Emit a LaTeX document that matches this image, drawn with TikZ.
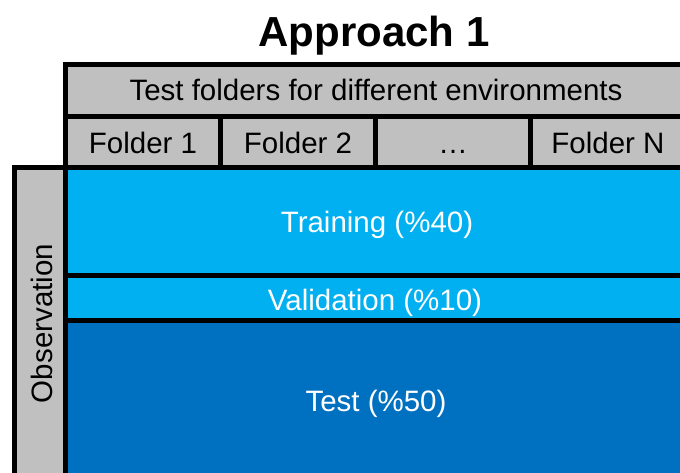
\documentclass[tikz,border=0pt]{standalone}
\usepackage{fontspec}
\setmainfont{Liberation Sans}
\definecolor{cellgray}{HTML}{C0C0C0}
\definecolor{lightblue}{HTML}{00B0F0}
\definecolor{darkblue}{HTML}{0070C0}
\begin{document}
\begin{tikzpicture}[x=1pt,y=-1pt,
  cell/.style={draw=black,line width=5pt,line join=miter},
  graycell/.style={cell,fill=cellgray},
  lbcell/.style={cell,fill=lightblue},
  dbcell/.style={cell,fill=darkblue},
  lbl/.style={font=\fontsize{29.5}{34}\selectfont,anchor=base,inner sep=0pt},
  wlbl/.style={lbl,text=white},
  ttl/.style={font=\bfseries\fontsize{42}{50}\selectfont,anchor=base,inner sep=0pt}]
\useasboundingbox (0,0) rectangle (680,473);
\clip (0,0) rectangle (680,473);
\fill[white] (0,0) rectangle (680,473);
% cells
\filldraw[graycell] (65.5,64.5) rectangle (690,116.5);
\filldraw[graycell] (65.5,116.5) rectangle (220,168);
\filldraw[graycell] (220,116.5) rectangle (375.5,168);
\filldraw[graycell] (375.5,116.5) rectangle (530.5,168);
\filldraw[graycell] (530.5,116.5) rectangle (690,168);
\filldraw[lbcell] (65.5,168) rectangle (690,275.5);
\filldraw[lbcell] (65.5,275.5) rectangle (690,320.5);
\filldraw[dbcell] (65.5,320.5) rectangle (690,485);
\filldraw[graycell] (14.5,168) rectangle (65.5,485);
% texts
\node[ttl] (title) at (374,47) {Approach 1};
\node[lbl] (header) at (376,101) {Test folders for different environments};
\node[lbl] (f1) at (143,153.5) {Folder 1};
\node[lbl] (f2) at (298,153.5) {Folder 2};
\node[lbl] (fdots) at (453,153.5) {…};
\node[lbl] (fn) at (608,153.5) {Folder N};
\node[wlbl] (train) at (377,233) {Training (\%40)};
\node[wlbl] (val) at (375,310) {Validation (\%10)};
\node[wlbl] (test) at (376,411) {Test (\%50)};
\node[lbl,rotate=90] (obs) at (52,323.5) {Observation};
\end{tikzpicture}
\end{document}
